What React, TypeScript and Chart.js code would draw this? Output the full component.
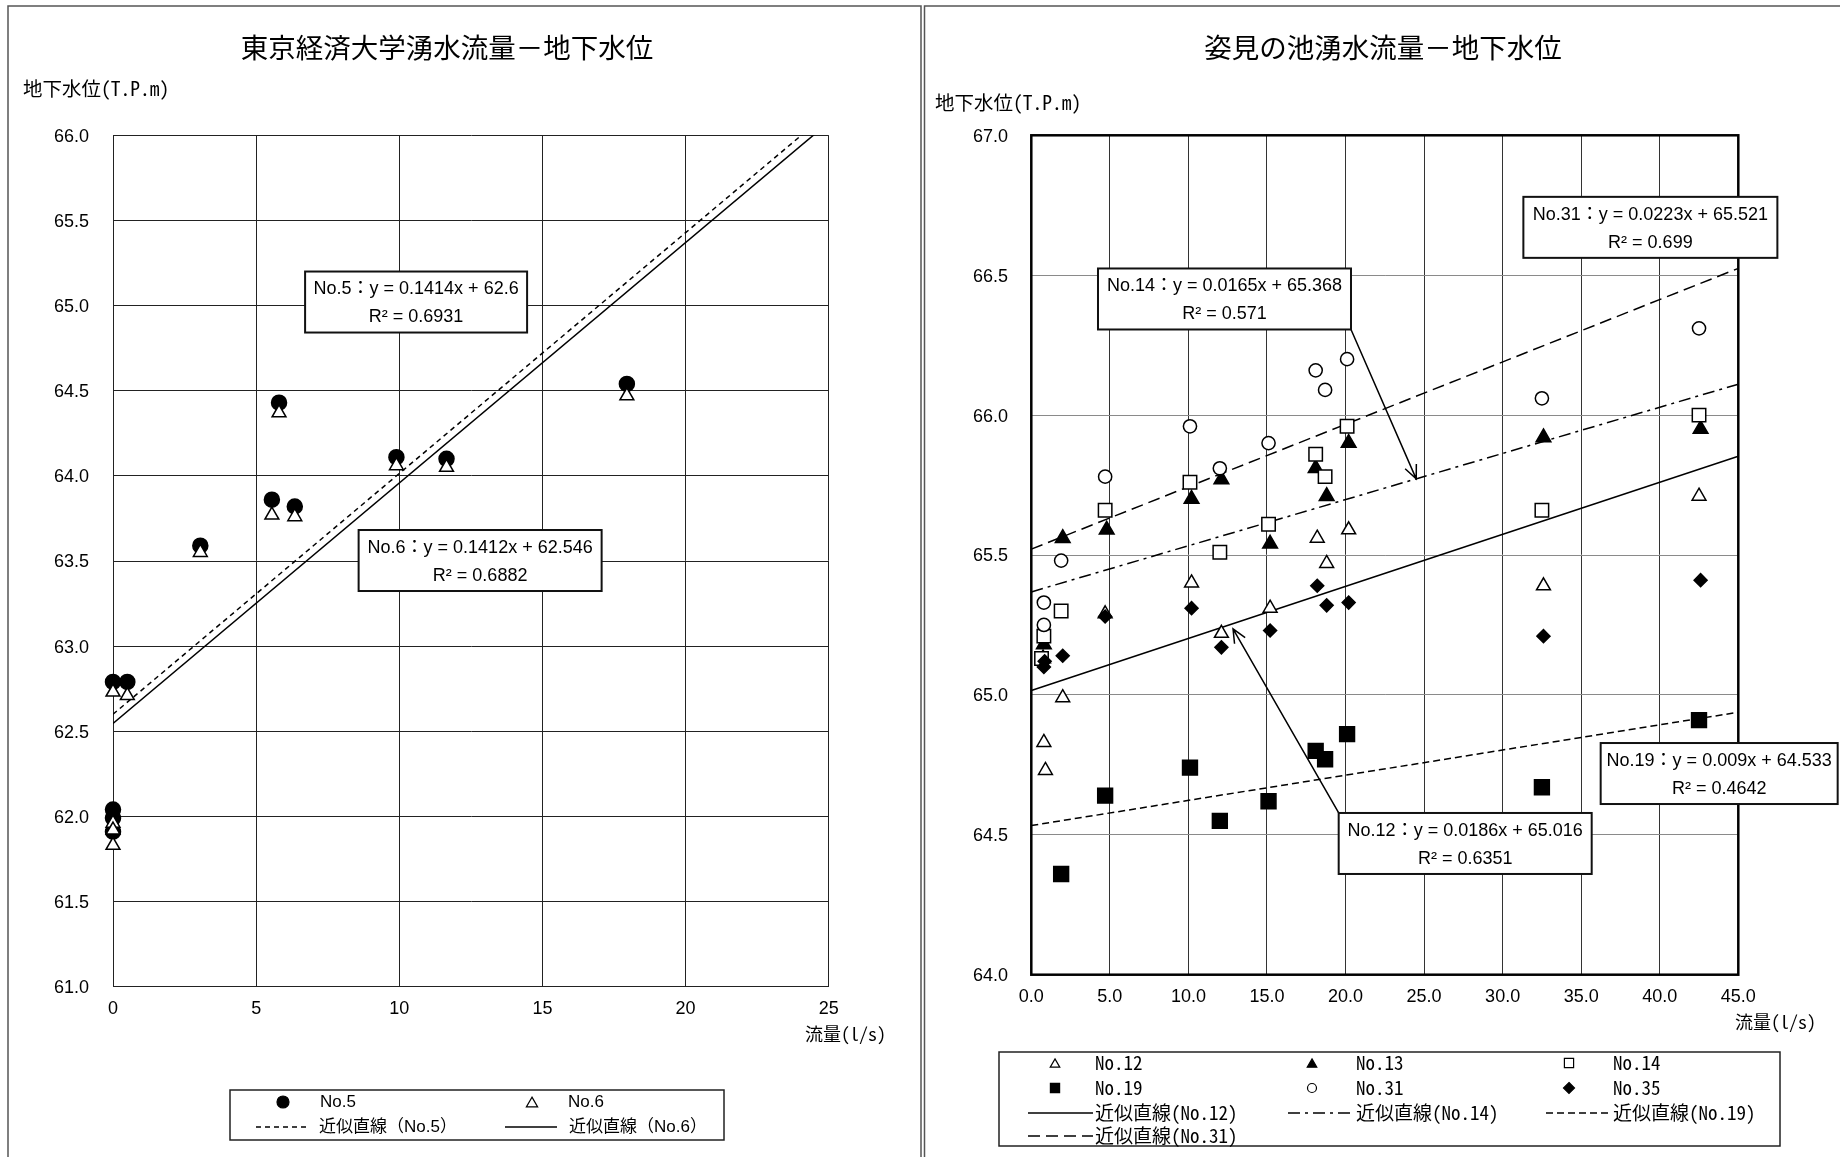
import { useEffect, useRef } from 'react';
import { Chart, registerables } from 'chart.js';

Chart.register(...registerables);

const PAGE_W = 1840;
const PAGE_H = 1157;
const LEFT_W = 923;
const RIGHT_W = PAGE_W - LEFT_W;

const MONO = "'Noto Sans Mono CJK JP', 'Noto Sans CJK JP', 'DejaVu Sans Mono', monospace";
const CJK = "'Noto Sans CJK JP', sans-serif";
const PROP = "'Liberation Sans', Arial, 'Noto Sans CJK JP', sans-serif";

// ================= Left chart (東京経済大学) =================
const leftTitle = '東京経済大学湧水流量－地下水位';
const leftYAxisTitle = '地下水位(T.P.m)';
const leftXAxisTitle = '流量(l/s)';
const leftFlow = [0, 0.5, 0, 0, 0, 3.05, 5.55, 5.8, 6.35, 9.9, 11.65, 17.95];
const leftNo5 = [62.79, 62.79, 62.04, 61.99, 61.91, 63.59, 63.86, 64.43, 63.82, 64.11, 64.1, 64.54];
const leftNo6 = [62.73, 62.71, 61.96, 61.92, 61.83, 63.55, 63.77, 64.37, 63.76, 64.06, 64.05, 64.47];
const leftSeries = ['No.5', 'No.6'];
const leftTrendSlope = [0.1414, 0.1412];
const leftTrendIntercept = [62.6, 62.546];
const leftTrendR2 = ['0.6931', '0.6882'];
const leftXTicks = [0, 5, 10, 15, 20, 25];
const leftXTickLabels = ['0', '5', '10', '15', '20', '25'];
const leftYTicks = [61, 61.5, 62, 62.5, 63, 63.5, 64, 64.5, 65, 65.5, 66];
const leftYTickLabels = ['61.0', '61.5', '62.0', '62.5', '63.0', '63.5', '64.0', '64.5', '65.0', '65.5', '66.0'];

// ================= Right chart (姿見の池) =================
const rightTitle = '姿見の池湧水流量－地下水位';
const rightYAxisTitle = '地下水位(T.P.m)';
const rightXAxisTitle = '流量(l/s)';
const no12X = [0.8, 0.9, 2.0, 4.7, 10.2, 12.1, 15.2, 18.2, 18.8, 20.2, 32.6, 42.5];
const no12Y = [64.83, 64.73, 64.99, 65.29, 65.4, 65.22, 65.31, 65.56, 65.47, 65.59, 65.39, 65.71];
const no13X = [0.8, 0.75, 2.0, 4.8, 10.2, 12.1, 15.2, 18.1, 18.8, 20.2, 32.6, 42.6];
const no13Y = [65.18, 65.13, 65.56, 65.59, 65.7, 65.77, 65.54, 65.81, 65.71, 65.9, 65.92, 65.95];
const no14X = [0.65, 0.8, 1.9, 4.7, 10.1, 12.0, 15.1, 18.1, 18.7, 20.1, 32.5, 42.5];
const no14Y = [65.13, 65.21, 65.3, 65.66, 65.76, 65.51, 65.61, 65.86, 65.78, 65.96, 65.66, 66.0];
const no19X = [1.9, 4.7, 10.1, 12.0, 15.1, 18.1, 18.7, 20.1, 32.5, 42.5];
const no19Y = [64.36, 64.64, 64.74, 64.55, 64.62, 64.8, 64.77, 64.86, 64.67, 64.91];
const no31X = [0.8, 0.8, 1.9, 4.7, 10.1, 12.0, 15.1, 18.1, 18.7, 20.1, 32.5, 42.5];
const no31Y = [65.25, 65.33, 65.48, 65.78, 65.96, 65.81, 65.9, 66.16, 66.09, 66.2, 66.06, 66.31];
const no35X = [0.8, 0.85, 2.0, 4.7, 10.2, 12.1, 15.2, 18.2, 18.8, 20.2, 32.6, 42.6];
const no35Y = [65.1, 65.12, 65.14, 65.28, 65.31, 65.17, 65.23, 65.39, 65.32, 65.33, 65.21, 65.41];
const rightSeries = ['No.12', 'No.13', 'No.14', 'No.19', 'No.31', 'No.35'];
const rightTrendNames = ['No.12', 'No.14', 'No.19', 'No.31'];
const rightTrendSlope = [0.0186, 0.0165, 0.009, 0.0223];
const rightTrendIntercept = [65.016, 65.368, 64.533, 65.521];
const rightTrendR2 = ['0.6351', '0.571', '0.4642', '0.699'];
const rightXTicks = [0, 5, 10, 15, 20, 25, 30, 35, 40, 45];
const rightXTickLabels = ['0.0', '5.0', '10.0', '15.0', '20.0', '25.0', '30.0', '35.0', '40.0', '45.0'];
const rightYTicks = [64, 64.5, 65, 65.5, 66, 66.5, 67];
const rightYTickLabels = ['64.0', '64.5', '65.0', '65.5', '66.0', '66.5', '67.0'];

// ================= helpers =================
type MarkerStyle = 'circle' | 'triangle' | 'rect' | 'rectRot';

function scatterSet(label: string, xs: number[], ys: number[], style: MarkerStyle, r: number, filled: boolean, order: number) {
  return {
    type: 'scatter' as const,
    label,
    data: xs.map((x, i) => ({ x, y: ys[i] })),
    pointStyle: style,
    pointRadius: r,
    pointHoverRadius: r,
    pointBackgroundColor: filled ? '#000' : '#fff',
    pointBorderColor: '#000',
    pointBorderWidth: 1.5,
    showLine: false,
    clip: false as any,
    order,
  };
}

function trendSet(label: string, slope: number, intercept: number, x0: number, x1: number, dash: number[], order: number) {
  return {
    type: 'line' as const,
    label,
    data: [x0, x1].map((x) => ({ x, y: slope * x + intercept })),
    borderColor: '#000',
    borderWidth: 1.5,
    borderDash: dash,
    pointRadius: 0,
    pointHoverRadius: 0,
    fill: false,
    tension: 0,
    order,
  };
}

const eqText = (name: string, m: number, b: number) => `${name}：y = ${m}x + ${b}`;

function drawMarker(ctx: CanvasRenderingContext2D, style: string, x: number, y: number, r: number, fill: string) {
  ctx.beginPath();
  if (style === 'circle') {
    ctx.arc(x, y, r, 0, Math.PI * 2);
  } else if (style === 'triangle') {
    const yy = y + r * 0.25;
    ctx.moveTo(x, yy - r);
    ctx.lineTo(x + r * 0.866, yy + r * 0.5);
    ctx.lineTo(x - r * 0.866, yy + r * 0.5);
    ctx.closePath();
  } else if (style === 'rect') {
    const s = r * Math.SQRT1_2;
    ctx.rect(x - s, y - s, 2 * s, 2 * s);
  } else {
    ctx.moveTo(x, y - r);
    ctx.lineTo(x + r, y);
    ctx.lineTo(x, y + r);
    ctx.lineTo(x - r, y);
    ctx.closePath();
  }
  ctx.fillStyle = fill;
  ctx.fill();
  ctx.lineWidth = 1.2;
  ctx.strokeStyle = '#000';
  ctx.stroke();
}

function drawArrow(ctx: CanvasRenderingContext2D, sx: number, sy: number, tx: number, ty: number) {
  ctx.strokeStyle = '#000';
  ctx.lineWidth = 1.5;
  ctx.setLineDash([]);
  ctx.beginPath();
  ctx.moveTo(sx, sy);
  ctx.lineTo(tx, ty);
  const ang = Math.atan2(sy - ty, sx - tx);
  const len = 15;
  const spread = 0.42;
  ctx.moveTo(tx + Math.cos(ang - spread) * len, ty + Math.sin(ang - spread) * len);
  ctx.lineTo(tx, ty);
  ctx.lineTo(tx + Math.cos(ang + spread) * len, ty + Math.sin(ang + spread) * len);
  ctx.stroke();
}

interface BoxSpec {
  x: number;
  y: number;
  w: number;
  h: number;
  lines: string[];
  arrow?: { corner: 'tl' | 'br'; x: number; y: number };
}
interface LegendItem {
  ds: number;
  sx: number;
  sx2?: number;
  tx: number;
  ty: number;
  r?: number;
}
interface PanelSpec {
  border: [number, number, number, number];
  title: string;
  titlePos: [number, number];
  yTitle: string;
  yTitlePos: [number, number];
  yTitleFont: string;
  xTitle: string;
  xTitlePos: [number, number];
  frame: boolean;
  boxes: BoxSpec[];
  legendBox: [number, number, number, number];
  legendFont: string;
  legendItems: LegendItem[];
}

function makeDecor(spec: PanelSpec) {
  return {
    id: 'panelDecor',
    beforeDraw(chart: any) {
      const ctx: CanvasRenderingContext2D = chart.ctx;
      ctx.save();
      ctx.fillStyle = '#fff';
      ctx.fillRect(0, 0, chart.width, chart.height);
      ctx.strokeStyle = '#555';
      ctx.lineWidth = 1.5;
      ctx.strokeRect(spec.border[0], spec.border[1], spec.border[2], spec.border[3]);
      ctx.restore();
    },
    beforeDatasetsDraw(chart: any) {
      if (!spec.frame) return;
      const ctx: CanvasRenderingContext2D = chart.ctx;
      const a = chart.chartArea;
      ctx.save();
      ctx.strokeStyle = '#000';
      ctx.lineWidth = 2.5;
      ctx.strokeRect(a.left, a.top, a.right - a.left, a.bottom - a.top);
      ctx.restore();
    },
    afterDraw(chart: any) {
      const ctx: CanvasRenderingContext2D = chart.ctx;
      const xs = chart.scales.x;
      const ys = chart.scales.y;
      ctx.save();
      ctx.setLineDash([]);
      ctx.fillStyle = '#000';
      ctx.textBaseline = 'middle';
      ctx.textAlign = 'center';
      ctx.font = `27.5px ${CJK}`;
      ctx.fillText(spec.title, spec.titlePos[0], spec.titlePos[1]);
      ctx.textAlign = 'left';
      ctx.font = spec.yTitleFont;
      ctx.fillText(spec.yTitle, spec.yTitlePos[0], spec.yTitlePos[1]);
      ctx.font = `18px ${MONO}`;
      ctx.fillText(spec.xTitle, spec.xTitlePos[0], spec.xTitlePos[1]);

      // equation boxes
      for (const b of spec.boxes) {
        const bx = xs.getPixelForValue(b.x);
        const by = ys.getPixelForValue(b.y);
        if (b.arrow) {
          const sx = b.arrow.corner === 'tl' ? bx : bx + b.w;
          const sy = b.arrow.corner === 'tl' ? by : by + b.h;
          drawArrow(ctx, sx, sy, xs.getPixelForValue(b.arrow.x), ys.getPixelForValue(b.arrow.y));
        }
        ctx.fillStyle = '#fff';
        ctx.fillRect(bx, by, b.w, b.h);
        ctx.strokeStyle = '#111';
        ctx.lineWidth = 2;
        ctx.strokeRect(bx, by, b.w, b.h);
        ctx.fillStyle = '#000';
        ctx.font = `18px ${PROP}`;
        ctx.textAlign = 'center';
        b.lines.forEach((t, i) => ctx.fillText(t, bx + b.w / 2, by + 18 + i * 28));
      }

      // legend
      const lb = spec.legendBox;
      ctx.fillStyle = '#fff';
      ctx.fillRect(lb[0], lb[1], lb[2] - lb[0], lb[3] - lb[1]);
      ctx.strokeStyle = '#222';
      ctx.lineWidth = 1.5;
      ctx.strokeRect(lb[0], lb[1], lb[2] - lb[0], lb[3] - lb[1]);
      ctx.textAlign = 'left';
      ctx.font = spec.legendFont;
      for (const it of spec.legendItems) {
        const ds: any = chart.data.datasets[it.ds];
        if (it.sx2 !== undefined) {
          ctx.strokeStyle = '#000';
          ctx.lineWidth = 1.5;
          ctx.setLineDash(ds.borderDash || []);
          ctx.beginPath();
          ctx.moveTo(it.sx, it.ty);
          ctx.lineTo(it.sx2, it.ty);
          ctx.stroke();
          ctx.setLineDash([]);
        } else {
          drawMarker(ctx, ds.pointStyle, it.sx, it.ty, it.r ?? 5.5, ds.pointBackgroundColor);
        }
        ctx.fillStyle = '#000';
        ctx.fillText(ds.label, it.tx, it.ty);
      }
      ctx.restore();
    },
  };
}

function makeScales(o: {
  xMin: number; xMax: number; yMin: number; yMax: number;
  xTicks: number[]; xLabels: string[]; yTicks: number[]; yLabels: string[];
  plotLeft: number; plotBottom: number; xPad: number; yPad: number;
  xGrid: string; yGrid: string;
}) {
  const tickFont = { family: PROP, size: 18 };
  return {
    x: {
      type: 'linear' as const,
      min: o.xMin,
      max: o.xMax,
      afterFit: (s: any) => { s.height = PAGE_H - o.plotBottom; },
      afterBuildTicks: (s: any) => { s.ticks = o.xTicks.map((v) => ({ value: v })); },
      ticks: {
        autoSkip: false,
        maxRotation: 0,
        padding: o.xPad,
        color: '#000',
        font: tickFont,
        callback: (_v: any, i: number) => o.xLabels[i],
      },
      grid: { color: o.xGrid, lineWidth: 1, drawTicks: false },
      border: { display: true, color: '#222', width: 1 },
    },
    y: {
      type: 'linear' as const,
      min: o.yMin,
      max: o.yMax,
      afterFit: (s: any) => { s.width = o.plotLeft; },
      afterBuildTicks: (s: any) => { s.ticks = o.yTicks.map((v) => ({ value: v })); },
      ticks: {
        autoSkip: false,
        padding: o.yPad,
        labelOffset: 1.5,
        color: '#000',
        font: tickFont,
        callback: (_v: any, i: number) => o.yLabels[i],
      },
      grid: { color: o.yGrid, lineWidth: 1, drawTicks: false },
      border: { display: true, color: '#222', width: 1 },
    },
  };
}

function leftConfig(): any {
  const datasets = [
    scatterSet(leftSeries[0], leftFlow, leftNo5, 'circle', 7.5, true, 2),
    scatterSet(leftSeries[1], leftFlow, leftNo6, 'triangle', 8, false, 1),
    trendSet(`近似直線（${leftSeries[0]}）`, leftTrendSlope[0], leftTrendIntercept[0], 0, 25, [5, 4], 4),
    trendSet(`近似直線（${leftSeries[1]}）`, leftTrendSlope[1], leftTrendIntercept[1], 0, 25, [], 3),
  ];
  const spec: PanelSpec = {
    border: [8, 6, 913, 1300],
    title: leftTitle,
    titlePos: [447, 48],
    yTitle: leftYAxisTitle,
    yTitlePos: [23, 89],
    yTitleFont: `19.5px ${MONO}`,
    xTitle: leftXAxisTitle,
    xTitlePos: [805, 1034],
    frame: false,
    boxes: [
      { x: 6.71, y: 65.2, w: 222, h: 61, lines: [eqText(leftSeries[0], leftTrendSlope[0], leftTrendIntercept[0]), `R² = ${leftTrendR2[0]}`] },
      { x: 8.58, y: 63.682, w: 243, h: 61, lines: [eqText(leftSeries[1], leftTrendSlope[1], leftTrendIntercept[1]), `R² = ${leftTrendR2[1]}`] },
    ],
    legendBox: [230, 1090, 724, 1140],
    legendFont: `17px ${PROP}`,
    legendItems: [
      { ds: 0, sx: 283, tx: 320, ty: 1102, r: 6 },
      { ds: 1, sx: 532, tx: 568, ty: 1102, r: 6.5 },
      { ds: 2, sx: 256, sx2: 307, tx: 319, ty: 1127 },
      { ds: 3, sx: 505, sx2: 557, tx: 569, ty: 1127 },
    ],
  };
  return {
    type: 'scatter',
    data: { datasets },
    options: {
      animation: false,
      responsive: false,
      events: [],
      layout: { padding: { left: 0, top: 135.3, right: LEFT_W - 828.7, bottom: 0 } },
      plugins: { legend: { display: false }, tooltip: { enabled: false }, title: { display: false } },
      scales: makeScales({
        xMin: 0, xMax: 25, yMin: 61, yMax: 66,
        xTicks: leftXTicks, xLabels: leftXTickLabels, yTicks: leftYTicks, yLabels: leftYTickLabels,
        plotLeft: 113, plotBottom: 986.7, xPad: 11.5, yPad: 24,
        xGrid: '#222', yGrid: '#222',
      }),
    },
    plugins: [makeDecor(spec)],
  };
}

function rightConfig(): any {
  const datasets = [
    scatterSet(rightSeries[0], no12X, no12Y, 'triangle', 8, false, 6),
    scatterSet(rightSeries[1], no13X, no13Y, 'triangle', 8.5, true, 5),
    scatterSet(rightSeries[2], no14X, no14Y, 'rect', 9.5, false, 4),
    scatterSet(rightSeries[3], no19X, no19Y, 'rect', 10.5, true, 3),
    scatterSet(rightSeries[4], no31X, no31Y, 'circle', 6.6, false, 2),
    scatterSet(rightSeries[5], no35X, no35Y, 'rectRot', 6.5, true, 1),
    trendSet(`近似直線(${rightTrendNames[0]})`, rightTrendSlope[0], rightTrendIntercept[0], 0, 45, [], 10),
    trendSet(`近似直線(${rightTrendNames[1]})`, rightTrendSlope[1], rightTrendIntercept[1], 0, 45, [12, 5, 3, 5], 9),
    trendSet(`近似直線(${rightTrendNames[2]})`, rightTrendSlope[2], rightTrendIntercept[2], 0, 45, [7, 4], 8),
    trendSet(`近似直線(${rightTrendNames[3]})`, rightTrendSlope[3], rightTrendIntercept[3], 0, 45, [12, 6], 7),
  ];
  const box = (i: number) => [eqText(rightTrendNames[i], rightTrendSlope[i], rightTrendIntercept[i]), `R² = ${rightTrendR2[i]}`];
  const spec: PanelSpec = {
    border: [1.5, 6, 1000, 1300],
    title: rightTitle,
    titlePos: [460, 48],
    yTitle: rightYAxisTitle,
    yTitlePos: [12, 103],
    yTitleFont: `19.5px ${MONO}`,
    xTitle: rightXAxisTitle,
    xTitlePos: [812, 1022],
    frame: true,
    boxes: [
      { x: 4.245, y: 66.524, w: 253, h: 61, lines: box(1), arrow: { corner: 'br', x: 24.5, y: 65.772 } },
      { x: 31.32, y: 66.78, w: 254, h: 61, lines: box(3) },
      { x: 19.565, y: 64.578, w: 253, h: 61, lines: box(0), arrow: { corner: 'tl', x: 12.84, y: 65.236 } },
      { x: 36.24, y: 64.828, w: 237, h: 61, lines: box(2) },
    ],
    legendBox: [76, 1052, 857, 1146],
    legendFont: `19px ${MONO}`,
    legendItems: [
      { ds: 0, sx: 132, tx: 172, ty: 1063 },
      { ds: 1, sx: 389, tx: 433, ty: 1063 },
      { ds: 2, sx: 646, tx: 690, ty: 1063, r: 6.5 },
      { ds: 3, sx: 132, tx: 172, ty: 1088, r: 6.5 },
      { ds: 4, sx: 389, tx: 433, ty: 1088, r: 4.5 },
      { ds: 5, sx: 646, tx: 690, ty: 1088, r: 5.5 },
      { ds: 6, sx: 105, sx2: 170, tx: 172, ty: 1113 },
      { ds: 7, sx: 365, sx2: 430, tx: 433, ty: 1113 },
      { ds: 8, sx: 623, sx2: 687, tx: 690, ty: 1113 },
      { ds: 9, sx: 105, sx2: 170, tx: 172, ty: 1136 },
    ],
  };
  return {
    type: 'scatter',
    data: { datasets },
    options: {
      animation: false,
      responsive: false,
      events: [],
      layout: { padding: { left: 0, top: 135.3, right: RIGHT_W - 815.3, bottom: 0 } },
      plugins: { legend: { display: false }, tooltip: { enabled: false }, title: { display: false } },
      scales: makeScales({
        xMin: 0, xMax: 45, yMin: 64, yMax: 67,
        xTicks: rightXTicks, xLabels: rightXTickLabels, yTicks: rightYTicks, yLabels: rightYTickLabels,
        plotLeft: 108.3, plotBottom: 974.7, xPad: 11.5, yPad: 23.3,
        xGrid: '#333', yGrid: '#8a8a8a',
      }),
    },
    plugins: [makeDecor(spec)],
  };
}

function Panel({ make, left, width }: { make: () => any; left: number; width: number }) {
  const ref = useRef<HTMLCanvasElement>(null);
  useEffect(() => {
    if (!ref.current) return;
    const chart = new Chart(ref.current, make());
    return () => chart.destroy();
  }, []);
  return (
    <canvas
      ref={ref}
      width={width}
      height={PAGE_H}
      style={{ position: 'absolute', left, top: 0, width, height: PAGE_H, display: 'block' }}
    />
  );
}

export default function App() {
  return (
    <div style={{ position: 'absolute', left: 0, top: 0, width: PAGE_W, height: PAGE_H, background: '#fff', overflow: 'hidden' }}>
      <Panel make={leftConfig} left={0} width={LEFT_W} />
      <Panel make={rightConfig} left={LEFT_W} width={RIGHT_W} />
    </div>
  );
}
